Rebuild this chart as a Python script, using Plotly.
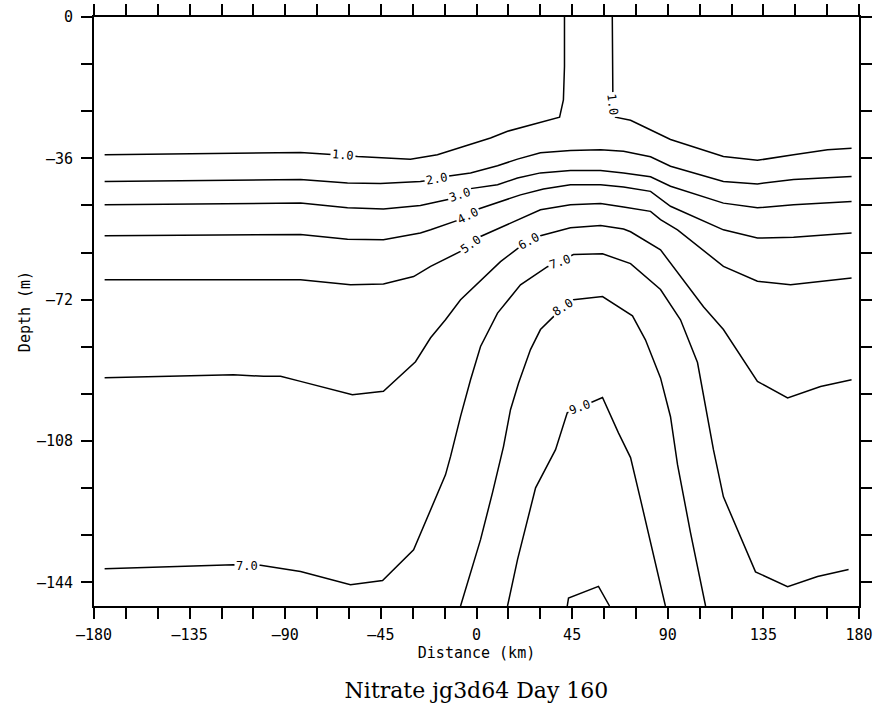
import plotly.graph_objects as go

# ---------------- data (distance km, depth m) ----------------
x_ticks = list(range(-180, 181, 15))
x_ticktext = ["–180", "", "", "–135", "", "", "–90", "", "", "–45", "", "",
              "0", "", "", "45", "", "", "90", "", "", "135", "", "", "180"]
y_ticks = list(range(0, -145, -12))
y_ticktext = ["0", "", "", "–36", "", "", "–72", "", "", "–108", "", "", "–144"]

# contour 1.0 (two branches cut by the surface)
c10a_x = [-175, -130, -82.8, -62.7, -56.0, -31.1, -18.4, -6.1, 6.6, 14.6, 26.8, 39.1, 40.9, 41.4, 41.4]
c10a_y = [-35.1, -34.8, -34.5, -35.2, -35.5, -36.2, -35.1, -33.0, -30.8, -29.1, -27.4, -25.5, -21.1, -12.6, 0]
c10b_x = [63.9, 63.9, 64.2, 65.4, 72.5, 78.6, 91.3, 116.2, 132.2, 149.2, 165.2, 176.5]
c10b_y = [0, -18.5, -22.3, -25.5, -26.3, -27.9, -31.2, -35.5, -36.5, -35.1, -33.8, -33.4]

c20_x = [-175, -82.8, -60.7, -45.2, -26.4, -18.8, -14.6, -2.8, 9.9, 19.3, 30.1, 44.2, 58.4, 69.2, 81.9, 91.3, 116.2, 132.2, 149.2, 176.5]
c20_y = [-41.9, -41.4, -42.3, -42.4, -41.9, -41.3, -40.6, -39.7, -37.9, -36.2, -34.6, -34.0, -33.8, -34.2, -35.6, -38.0, -41.9, -42.5, -41.4, -40.6]

c30_x = [-175, -82.8, -60.7, -43.8, -26.4, -12.9, -8.0, -2.8, 9.9, 19.3, 30.1, 44.2, 58.4, 69.2, 81.9, 91.3, 116.2, 132.2, 149.2, 176.5]
c30_y = [-47.8, -47.4, -48.6, -48.9, -48.0, -46.4, -45.4, -43.7, -42.7, -41.0, -39.7, -39.1, -39.1, -39.7, -40.7, -43.1, -47.4, -48.6, -47.8, -47.0]

c40_x = [-175, -82.8, -60.7, -43.8, -26.4, -21.6, -8.9, -4.2, 0.9, 11.3, 20.7, 31.5, 44.2, 58.4, 69.2, 81.9, 91.3, 116.2, 132.2, 149.2, 176.5]
c40_y = [-55.7, -55.4, -56.6, -56.7, -55.0, -54.2, -51.8, -50.6, -48.9, -47.0, -45.3, -43.8, -42.7, -42.7, -43.3, -44.4, -48.2, -54.2, -56.3, -56.1, -55.0]

c50_x = [-175, -82.8, -59.3, -43.8, -29.6, -21.6, -7.5, -2.4, 1.9, 12.7, 22.1, 30.1, 44.2, 58.4, 69.2, 81.9, 86.6, 94.6, 116.2, 132.2, 147.8, 176.5]
c50_y = [-66.9, -66.9, -68.2, -68.0, -66.1, -63.5, -59.7, -57.9, -55.9, -53.3, -50.9, -49.1, -47.8, -47.5, -48.4, -49.5, -51.6, -54.2, -63.5, -67.3, -68.2, -66.5]

c60_x = [-175, -114.4, -100.2, -92.2, -82.8, -58.4, -43.8, -28.7, -21.6, -14.6, -7.5, 0.9, 11.3, 19.3, 24.9, 30.1, 44.2, 58.4, 69.2, 72.5, 86.6, 106.8, 116.2, 132.2, 146.4, 161.9, 176.5]
c60_y = [-91.9, -91.1, -91.5, -91.5, -92.8, -96.2, -95.3, -87.8, -81.7, -77.1, -72.0, -67.7, -62.3, -59.0, -57.1, -55.7, -53.7, -53.1, -54.0, -54.7, -59.3, -73.8, -79.6, -92.8, -97.0, -94.1, -92.4]

c70_x = [-175, -114.4, -107.8, -101.6, -82.8, -59.3, -44.2, -29.6, -14.6, -12.2, -7.5, -2.8, 1.9, 9.9, 20.7, 33.4, 39.1, 45.6, 59.3, 72.5, 86.6, 96.0, 104.0, 111.5, 116.2, 124.2, 131.3, 146.4, 160.5, 175.1]
c70_y = [-140.5, -139.5, -139.7, -139.6, -141.2, -144.6, -143.5, -135.7, -116.6, -111.9, -101.7, -92.4, -83.9, -75.4, -68.2, -63.6, -62.3, -60.5, -60.3, -62.8, -69.4, -77.1, -88.0, -110.2, -122.2, -132.3, -141.3, -145.1, -142.5, -140.7]

c80_x = [-7.5, 1.9, 7.5, 12.7, 16.0, 19.8, 25.4, 30.1, 37.2, 40.9, 45.6, 59.3, 73.4, 79.5, 86.6, 91.3, 94.6, 100.7, 107.8]
c80_y = [-150, -133.1, -121.2, -109.4, -100.0, -93.2, -84.7, -79.6, -75.8, -73.9, -72.0, -71.2, -76.1, -82.2, -91.9, -101.8, -114.0, -131.3, -150]

c90_x = [14.6, 19.3, 27.8, 37.2, 42.7, 48.9, 59.3, 66.8, 72.5, 77.2, 88.9]
c90_y = [-150, -138.2, -119.9, -110.2, -100.8, -99.4, -96.9, -105.9, -112.2, -122.9, -150]

c100_x = [42.7, 43.3, 57.4, 62.6]
c100_y = [-150, -148.0, -145.0, -150]

# contour labels: text, x, y, angle
lab_text = ["1.0", "1.0", "2.0", "3.0", "4.0", "5.0", "6.0", "7.0", "8.0", "9.0", "7.0"]
lab_x = [-62.7, 64.2, -18.8, -8.0, -4.2, -2.4, 24.9, 39.1, 40.9, 48.9, -107.8]
lab_y = [-35.2, -22.3, -41.3, -45.4, -50.6, -57.9, -57.1, -62.3, -73.9, -99.4, -139.7]
lab_ang = [5, 83, -10, -18, -27, -35, -29, -20, -33, -20, 0]

# ---------------- figure ----------------
fig = go.Figure()
lines = [(c10a_x, c10a_y), (c10b_x, c10b_y), (c20_x, c20_y), (c30_x, c30_y),
         (c40_x, c40_y), (c50_x, c50_y), (c60_x, c60_y), (c70_x, c70_y),
         (c80_x, c80_y), (c90_x, c90_y), (c100_x, c100_y)]
for xs, ys in lines:
    fig.add_trace(go.Scatter(x=xs, y=ys, mode="lines",
                             line=dict(color="black", width=1.5),
                             showlegend=False, hoverinfo="skip"))

for t, x, y, a in zip(lab_text, lab_x, lab_y, lab_ang):
    fig.add_annotation(x=x, y=y, text=t, showarrow=False, textangle=a,
                       bgcolor="white", borderpad=1,
                       font=dict(family="DejaVu Sans Mono", size=12, color="black"))

axis_font = dict(family="DejaVu Sans Mono", size=15, color="black")
fig.update_xaxes(range=[-180, 180], tickvals=x_ticks, ticktext=x_ticktext,
                 ticks="outside", ticklen=11, tickwidth=1.5, tickcolor="black",
                 showline=True, linewidth=2, linecolor="black", mirror="ticks",
                 showgrid=False, zeroline=False, tickfont=axis_font,
                 ticklabelstandoff=3,
                 title=dict(text="Distance (km)", font=axis_font, standoff=4))
fig.update_yaxes(range=[-150, 0], tickvals=y_ticks, ticktext=y_ticktext,
                 ticks="outside", ticklen=11, tickwidth=1.5, tickcolor="black",
                 showline=True, linewidth=2, linecolor="black", mirror="ticks",
                 showgrid=False, zeroline=False, tickfont=axis_font,
                 ticklabelstandoff=5,
                 title=dict(text="Depth (m)", font=axis_font, standoff=3))

fig.update_layout(
    width=873, height=704,
    margin=dict(l=94, r=14, t=17, b=98, autoexpand=False),
    paper_bgcolor="white", plot_bgcolor="white",
    title=dict(text="Nitrate jg3d64 Day 160", x=0.5, xref="paper",
               y=0.02, yref="container", yanchor="middle", xanchor="center",
               font=dict(family="DejaVu Serif", size=22, color="black")),
)

fig.write_html("out.html", config={"displayModeBar": False},
               post_script="document.body.style.margin='0';document.body.style.overflow='hidden';")
